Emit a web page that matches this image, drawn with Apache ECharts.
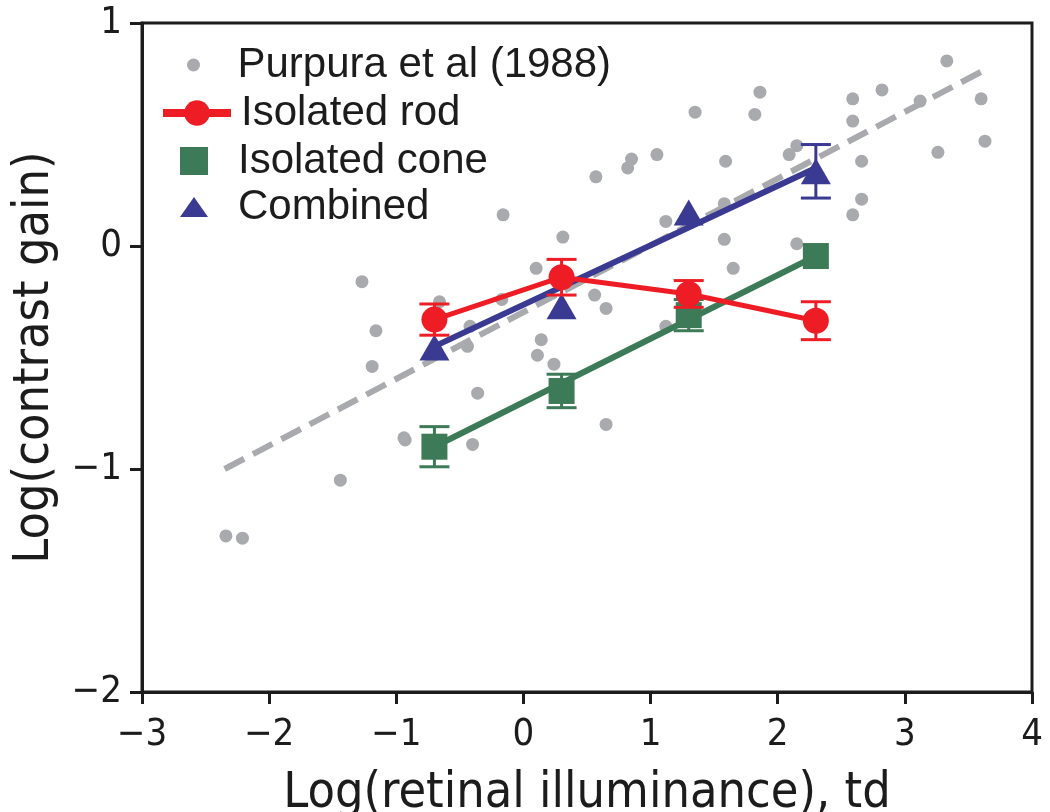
<!DOCTYPE html>
<html>
<head>
<meta charset="utf-8">
<script src="https://cdn.jsdelivr.net/npm/echarts@6/dist/echarts.min.js"></script>
<style>
  html, body { margin: 0; padding: 0; background: #fff; }
  #chart { width: 1050px; height: 812px; }
</style>
</head>
<body>
<div id="chart"></div>
<script>
// Purpura et al (1988) scatter
const purpuraX = [-2.34, -2.21, -1.44, -1.27, -1.16, -1.19, -0.94, -0.93, -0.66, -0.42, -0.44, -0.36, -0.40,
  -0.17, -0.16, 0.10, 0.14, 0.11, 0.24, 0.31, 0.56, 0.65, 0.65, 0.57, 0.82, 0.85, 1.05, 1.12, 1.12,
  1.35, 1.58, 1.58, 1.59, 1.65, 1.82, 1.86, 2.09, 2.15, 2.15, 2.59, 2.59, 2.59, 2.66, 2.66, 2.82,
  3.12, 3.26, 3.33, 3.60, 3.63];
const purpuraY = [-1.30, -1.31, -1.05, -0.16, -0.38, -0.54, -0.86, -0.87, -0.25, -0.36, -0.45, -0.66, -0.89,
  -0.24, 0.14, -0.10, -0.42, -0.49, -0.53, 0.04, -0.22, -0.28, -0.80, 0.31, 0.35, 0.39, 0.41, 0.11, -0.36,
  0.60, 0.19, 0.03, 0.38, -0.10, 0.59, 0.69, 0.41, 0.45, 0.01, 0.66, 0.56, 0.14, 0.38, 0.21, 0.70,
  0.65, 0.42, 0.83, 0.66, 0.47];
const purpuraFitX = [-2.35, 3.63];
const purpuraFitY = [-1.0, 0.79];

const lightLevels = [-0.7, 0.3, 1.3, 2.3];
const rodGain = [-0.33, -0.14, -0.215, -0.335];
const rodErr = [0.07, 0.08, 0.06, 0.085];
const coneGain = [-0.90, -0.65, -0.31, -0.045];
const coneErr = [0.09, 0.075, 0.07, 0.0];
const combinedGain = [-0.455, -0.27, 0.15, 0.335];
const combinedErr = [0.0, 0.0, 0.0, 0.12];
const coneFitY = [-0.90, -0.045];
const combinedFitY = [-0.45, 0.35];
const fitX = [-0.7, 2.3];

const xTicks = [-3, -2, -1, 0, 1, 2, 3, 4];
const yTicks = [-2, -1, 0, 1];

const RED = "#ee1d25";
const GREEN = "#3d7a58";
const BLUE = "#3a3a92";
const GRAY = "#a9aaad";
const INK = "#1c1c1c";
const NARROW = "'Liberation Sans Narrow', 'DejaVu Sans Condensed', sans-serif";
const SANS = "'Liberation Sans', Arial, sans-serif";
const TRIANGLE = "path://M14,0 L28,20 L0,20 Z";
const SQUARE = "path://M0,0 L28,0 L28,28 L0,28 Z";

const minus = (v) => String(v).replace("-", "\u2212");
const pairs = (xs, ys) => xs.map((x, i) => [x, ys[i]]);

function errorBarSeries(name, ys, errs, color, z) {
  return {
    name: name,
    type: "custom",
    z: z,
    silent: true,
    data: lightLevels.map((x, i) => [x, ys[i] - errs[i], ys[i] + errs[i]]),
    renderItem: (params, api) => {
      const lo = api.coord([api.value(0), api.value(1)]);
      const hi = api.coord([api.value(0), api.value(2)]);
      if (Math.abs(lo[1] - hi[1]) < 1) return null;
      const half = 15;
      const style = { stroke: color, lineWidth: 3 };
      return {
        type: "group",
        children: [
          { type: "line", shape: { x1: lo[0], y1: lo[1], x2: hi[0], y2: hi[1] }, style: style },
          { type: "line", shape: { x1: lo[0] - half, y1: lo[1], x2: lo[0] + half, y2: lo[1] }, style: style },
          { type: "line", shape: { x1: hi[0] - half, y1: hi[1], x2: hi[0] + half, y2: hi[1] }, style: style },
        ],
      };
    },
  };
}

// one legend block per row so each icon can have its own size
function legendRow(item, left, top, itemHeight, extra) {
  return Object.assign({
    data: [item],
    orient: "vertical",
    left: left, top: top, padding: 0,
    itemWidth: 68, itemHeight: itemHeight,
    symbolKeepAspect: true,
    textStyle: { fontFamily: SANS, fontSize: 42, color: INK, padding: [0, 0, 0, 5] },
  }, extra || {});
}

const chart = echarts.init(document.getElementById("chart"), null, { renderer: "canvas" });

chart.setOption({
  animation: false,
  backgroundColor: "#fff",
  grid: {
    left: 142, right: 18, top: 23, bottom: 120,
    outerBoundsMode: "none", containLabel: false,
    show: true, borderColor: INK, borderWidth: 3, backgroundColor: "transparent",
  },
  legend: [
    legendRow({ name: "Purpura et al (1988)", icon: "circle" }, 187, 44, 13),
    legendRow({ name: "Isolated rod" }, 159, 92, 32, { lineStyle: { width: 8 } }),
    legendRow({ name: "Isolated cone", icon: SQUARE }, 180, 140, 28),
    legendRow({ name: "Combined", icon: TRIANGLE }, 180, 186, 20),
  ],
  xAxis: {
    type: "value",
    min: xTicks[0], max: xTicks[xTicks.length - 1], interval: 1,
    name: "Log(retinal illuminance), td",
    nameLocation: "middle", nameGap: 77,
    nameTextStyle: { fontFamily: NARROW, fontSize: 50, color: INK },
    axisLine: { onZero: false, lineStyle: { color: INK, width: 3 } },
    axisTick: { inside: false, length: 12, lineStyle: { color: INK, width: 3 } },
    axisLabel: { fontFamily: NARROW, fontSize: 38, color: INK, margin: 24, formatter: minus },
    splitLine: { show: false },
  },
  yAxis: {
    type: "value",
    min: yTicks[0], max: yTicks[yTicks.length - 1], interval: 1,
    name: "Log(contrast gain)",
    nameLocation: "middle", nameGap: 82,
    nameTextStyle: { fontFamily: NARROW, fontSize: 50, color: INK },
    axisLine: { onZero: false, lineStyle: { color: INK, width: 3 } },
    axisTick: { inside: false, length: 12, lineStyle: { color: INK, width: 3 } },
    axisLabel: { fontFamily: NARROW, fontSize: 38, color: INK, margin: 20, formatter: minus },
    splitLine: { show: false },
  },
  series: [
    {
      name: "Purpura et al (1988)",
      type: "scatter",
      z: 1,
      data: pairs(purpuraX, purpuraY),
      symbol: "circle",
      symbolSize: 13,
      itemStyle: { color: GRAY, opacity: 1 },
    },
    {
      name: "Purpura fit",
      type: "line",
      z: 2,
      data: pairs(purpuraFitX, purpuraFitY),
      showSymbol: false,
      lineStyle: { color: GRAY, width: 6, type: [22, 10] },
    },
    {
      name: "Cone fit",
      type: "line",
      z: 3,
      data: pairs(fitX, coneFitY),
      showSymbol: false,
      lineStyle: { color: GREEN, width: 6 },
    },
    errorBarSeries("Cone error", coneGain, coneErr, GREEN, 3),
    {
      name: "Isolated cone",
      type: "scatter",
      z: 4,
      data: pairs(lightLevels, coneGain),
      symbol: "rect",
      symbolSize: 26,
      itemStyle: { color: GREEN, opacity: 1 },
    },
    {
      name: "Combined fit",
      type: "line",
      z: 5,
      data: pairs(fitX, combinedFitY),
      showSymbol: false,
      lineStyle: { color: BLUE, width: 6 },
    },
    errorBarSeries("Combined error", combinedGain, combinedErr, BLUE, 5),
    {
      name: "Combined",
      type: "scatter",
      z: 6,
      data: pairs(lightLevels, combinedGain),
      symbol: "triangle",
      symbolSize: [30, 26],
      itemStyle: { color: BLUE, opacity: 1 },
    },
    errorBarSeries("Rod error", rodGain, rodErr, RED, 7),
    {
      name: "Isolated rod",
      type: "line",
      z: 8,
      data: pairs(lightLevels, rodGain),
      symbol: "circle",
      symbolSize: 26,
      showSymbol: true,
      lineStyle: { color: RED, width: 5 },
      itemStyle: { color: RED },
    },
  ],
});
</script>
</body>
</html>
